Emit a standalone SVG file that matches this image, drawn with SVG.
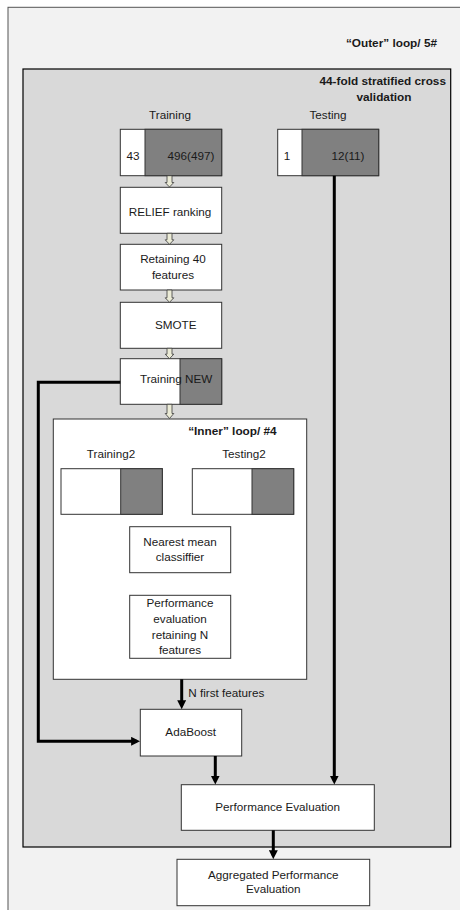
<svg xmlns="http://www.w3.org/2000/svg" width="460" height="910" viewBox="0 0 460 910">
<defs>
<style>
text{font-family:"Liberation Sans",Arial,sans-serif;font-size:11.7px;fill:#1a1a1a}
.b{font-weight:bold;font-size:11.8px}
.m{text-anchor:middle}
.e{text-anchor:end}
.box{fill:#ffffff;stroke:#333333;stroke-width:1}
.dark{fill:#808080;stroke:#333333;stroke-width:1}
.ha{fill:#ebebd6;stroke:#3a3a3a;stroke-width:0.8}
.con{fill:none;stroke:#000000;stroke-width:3}
</style>
<marker id="ar" viewBox="0 0 10 10" refX="6" refY="5" markerWidth="9" markerHeight="9" markerUnits="userSpaceOnUse" orient="auto">
<path d="M0,0 L10,5 L0,10 z" fill="#000000"/>
</marker>
</defs>
<rect x="0" y="0" width="460" height="910" fill="#ffffff"/>
<g id="outer-loop">
<rect x="8" y="7.3" width="470" height="920" fill="#f2f2f2" stroke="#555555" stroke-width="1"/>
<text class="b e" x="437" y="47">“Outer” loop/ 5#</text>
</g>
<g id="cross-validation">
<rect x="23" y="69" width="427.7" height="778" fill="#d9d9d9" stroke="#000000" stroke-width="1.2"/>
<text class="b e" x="446" y="85">44-fold stratified cross</text>
<text class="b m" x="384" y="101">validation</text>
</g>
<g id="training">
<text class="m" x="170" y="119">Training</text>
<rect class="box" x="120.3" y="129.3" width="101.4" height="46.4"/>
<rect class="dark" x="145" y="129.3" width="76.7" height="46.4"/>
<text class="m" x="133" y="160">43</text>
<text class="m" x="191" y="160">496(497)</text>
</g>
<g id="testing">
<text class="m" x="328" y="119">Testing</text>
<rect class="box" x="277.7" y="129.3" width="101" height="46.4"/>
<rect class="dark" x="302" y="129.3" width="76.7" height="46.4"/>
<text class="m" x="287" y="160">1</text>
<text class="m" x="348" y="160">12(11)</text>
</g>
<g id="relief">
<rect class="box" x="120.3" y="187.3" width="101.4" height="46"/>
<text class="m" x="170" y="216">RELIEF ranking</text>
</g>
<g id="retaining">
<rect class="box" x="120.3" y="244.3" width="101.4" height="45.7"/>
<text class="m" x="173" y="263">Retaining 40</text>
<text class="m" x="173" y="279">features</text>
</g>
<g id="smote">
<rect class="box" x="120.3" y="302.3" width="101.4" height="46"/>
<text class="m" x="175.7" y="329">SMOTE</text>
</g>
<g id="training-new">
<rect class="box" x="120.3" y="358.7" width="101.4" height="45.6"/>
<rect class="dark" x="180" y="358.7" width="41.7" height="45.6"/>
<text x="140" y="383">Training NEW</text>
</g>
<g id="inner-loop">
<rect class="box" x="53.3" y="419" width="253.4" height="260.3"/>
<text class="b e" x="276.7" y="435">“Inner” loop/ #4</text>
</g>
<g id="training2">
<text class="m" x="111" y="458">Training2</text>
<rect class="box" x="61" y="468.7" width="101.3" height="45.6"/>
<rect class="dark" x="120.7" y="468.7" width="41.6" height="45.6"/>
</g>
<g id="testing2">
<text class="m" x="244" y="458">Testing2</text>
<rect class="box" x="192.3" y="468.7" width="101.4" height="45.6"/>
<rect class="dark" x="252" y="468.7" width="41.7" height="45.6"/>
</g>
<g id="nearest-mean">
<rect class="box" x="129.7" y="526.7" width="101" height="46"/>
<text class="m" x="180" y="546">Nearest mean</text>
<text class="m" x="180" y="561">classiffier</text>
</g>
<g id="perf-eval-n">
<rect class="box" x="129.7" y="595.3" width="101" height="63"/>
<text class="m" x="180" y="607">Performance</text>
<text class="m" x="180" y="623">evaluation</text>
<text class="m" x="180" y="639">retaining N</text>
<text class="m" x="180" y="654">features</text>
</g>
<g id="adaboost">
<rect class="box" x="140.3" y="709.3" width="101.4" height="46.7"/>
<text class="m" x="190.7" y="736">AdaBoost</text>
</g>
<g id="performance-evaluation">
<rect class="box" x="181.3" y="784.7" width="193" height="45.6"/>
<text class="m" x="277.7" y="811">Performance Evaluation</text>
</g>
<g id="aggregated">
<rect class="box" x="177" y="859.3" width="192.7" height="46.4"/>
<text class="m" x="273.3" y="879">Aggregated Performance</text>
<text class="m" x="273.3" y="893">Evaluation</text>
</g>
<g id="connectors">
<path class="ha" d="M167,175.7 V182.5 H165.2 L169.5,187 L173.8,182.5 H172 V175.7 Z"/>
<path class="ha" d="M167,233.3 V239.8 H165.2 L169.5,244.3 L173.8,239.8 H172 V233.3 Z"/>
<path class="ha" d="M167,290 V297.8 H165.2 L169.5,302.3 L173.8,297.8 H172 V290 Z"/>
<path class="ha" d="M167,348.3 V354.2 H165.2 L169.5,358.7 L173.8,354.2 H172 V348.3 Z"/>
<path class="ha" d="M167,404.3 V413.5 H165.2 L169.5,418.5 L173.8,413.5 H172 V404.3 Z"/>
<path class="con" d="M334.3,175.7 V781" marker-end="url(#ar)"/>
<path class="con" d="M120.3,382.3 H38.3 V741.3 H136.5" marker-end="url(#ar)"/>
<path class="con" d="M181.7,679.3 V705.6" marker-end="url(#ar)"/>
<text x="188.3" y="697">N first features</text>
<path class="con" d="M215.3,756 V781" marker-end="url(#ar)"/>
<path class="con" d="M273.3,830.3 V855.6" marker-end="url(#ar)"/>
</g>
</svg>
